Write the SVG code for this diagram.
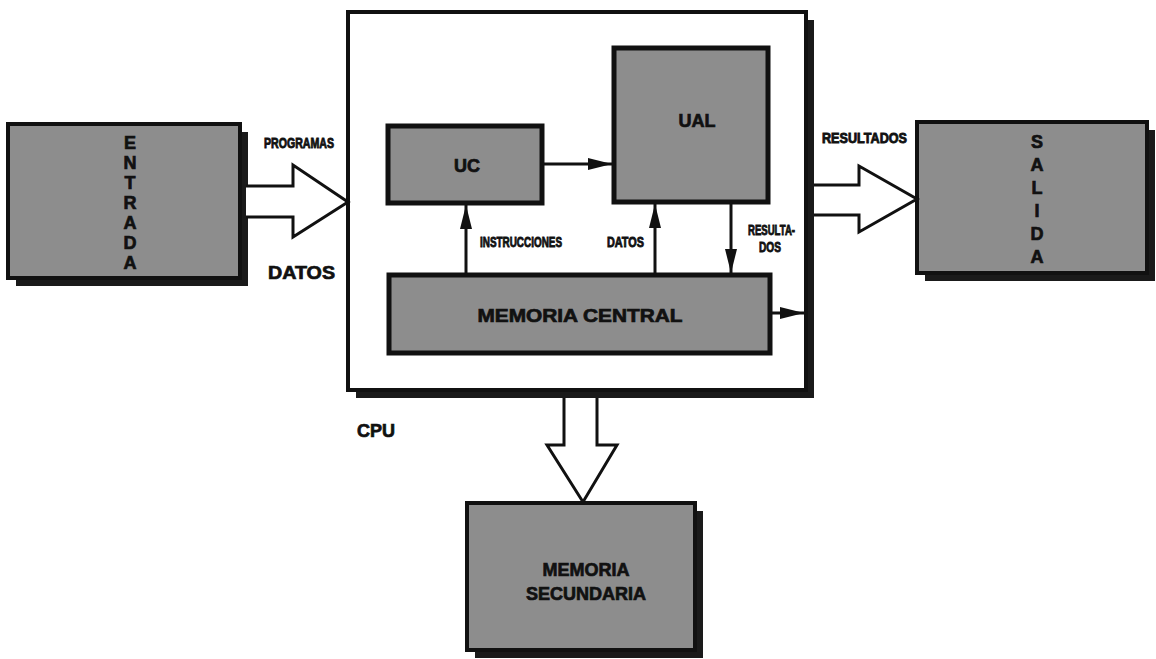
<svg xmlns="http://www.w3.org/2000/svg" width="1156" height="659" viewBox="0 0 1156 659">
<defs>
<style>
.box{fill:#8d8d8d;stroke:#111;stroke-width:4}
.shadow{fill:#1a1a1a}
.inner{fill:#8d8d8d;stroke:#111;stroke-width:5}
.cpu{fill:#fff;stroke:#111;stroke-width:4}
.block{fill:#fff;stroke:#111;stroke-width:3;stroke-linejoin:miter}
.line{stroke:#111;stroke-width:3;fill:none}
text{font-family:"Liberation Sans",Arial,sans-serif;font-weight:bold;fill:#111;stroke:#111;stroke-width:0.7}
.big{font-size:18px;text-anchor:middle}
.lbl{font-size:15px;stroke-width:0.9}
.v{font-size:18px;text-anchor:middle}
</style>
<marker id="ah" markerUnits="userSpaceOnUse" markerWidth="26" markerHeight="14" refX="24" refY="7" orient="auto">
<path d="M0,1 L24,7 L0,13 Z" fill="#111"/>
</marker>
</defs>

<g id="cpu">
<rect class="shadow" x="356" y="20" width="458" height="378"/>
<rect class="cpu" x="348" y="12" width="458" height="378"/>
<text class="big" x="376" y="437" font-size="17">CPU</text>
</g>

<g id="entrada">
<rect class="shadow" x="16" y="132" width="232" height="154"/>
<rect class="box" x="8" y="124" width="232" height="154"/>
<text class="v" x="130" y="149">E</text>
<text class="v" x="130" y="169">N</text>
<text class="v" x="130" y="189">T</text>
<text class="v" x="130" y="209">R</text>
<text class="v" x="130" y="229">A</text>
<text class="v" x="130" y="249">D</text>
<text class="v" x="130" y="269">A</text>
</g>

<g id="salida">
<rect class="shadow" x="925" y="130" width="230" height="151"/>
<rect class="box" x="917" y="122" width="230" height="151"/>
<text class="v" x="1037" y="148">S</text>
<text class="v" x="1037" y="171">A</text>
<text class="v" x="1037" y="194">L</text>
<text class="v" x="1037" y="217">I</text>
<text class="v" x="1037" y="240">D</text>
<text class="v" x="1037" y="263">A</text>
</g>

<g id="memoria-secundaria">
<rect class="shadow" x="475" y="511" width="228" height="147"/>
<rect class="box" x="467" y="503" width="228" height="147"/>
<text class="big" x="586" y="576" font-size="17">MEMORIA</text>
<text class="big" x="586" y="600" font-size="17">SECUNDARIA</text>
</g>

<g id="uc">
<rect class="inner" x="388" y="126" width="154" height="77"/>
<text class="big" x="467" y="172">UC</text>
</g>

<g id="ual">
<rect class="inner" x="614" y="48" width="154" height="154"/>
<text class="big" x="697" y="127">UAL</text>
</g>

<g id="memoria-central">
<rect class="inner" x="389" y="275" width="381" height="78"/>
<text class="big" x="580" y="322" font-size="19" textLength="205" lengthAdjust="spacingAndGlyphs">MEMORIA CENTRAL</text>
</g>

<g id="connectors">
<path class="block" d="M246,186 H293 V165 L348,202 L293,237 V217 H246"/>
<path class="block" d="M814,185 H859 V166 L917,199 L859,232 V215 H814"/>
<path class="block" d="M564,398 V445 H547 L583,502 L617,445 H597 V398"/>
<line class="line" x1="542" y1="164" x2="612" y2="164" marker-end="url(#ah)"/>
<line class="line" x1="466" y1="275" x2="466" y2="205" marker-end="url(#ah)"/>
<line class="line" x1="655" y1="275" x2="655" y2="204" marker-end="url(#ah)"/>
<line class="line" x1="731" y1="202" x2="731" y2="273" marker-end="url(#ah)"/>
<line class="line" x1="770" y1="313" x2="804" y2="313" marker-end="url(#ah)"/>
<text class="lbl" x="264" y="148" textLength="70" lengthAdjust="spacingAndGlyphs">PROGRAMAS</text>
<text x="268" y="279" font-size="18" textLength="67" lengthAdjust="spacingAndGlyphs">DATOS</text>
<text class="lbl" x="822" y="143" textLength="85" lengthAdjust="spacingAndGlyphs">RESULTADOS</text>
<text class="lbl" x="480" y="247" font-size="13" textLength="82" lengthAdjust="spacingAndGlyphs">INSTRUCCIONES</text>
<text class="lbl" x="607" y="247" font-size="13" textLength="37" lengthAdjust="spacingAndGlyphs">DATOS</text>
<text class="lbl" x="748" y="235" font-size="13" textLength="47" lengthAdjust="spacingAndGlyphs">RESULTA-</text>
<text class="lbl" x="759" y="252" font-size="13" textLength="22" lengthAdjust="spacingAndGlyphs">DOS</text>
</g>
</svg>
